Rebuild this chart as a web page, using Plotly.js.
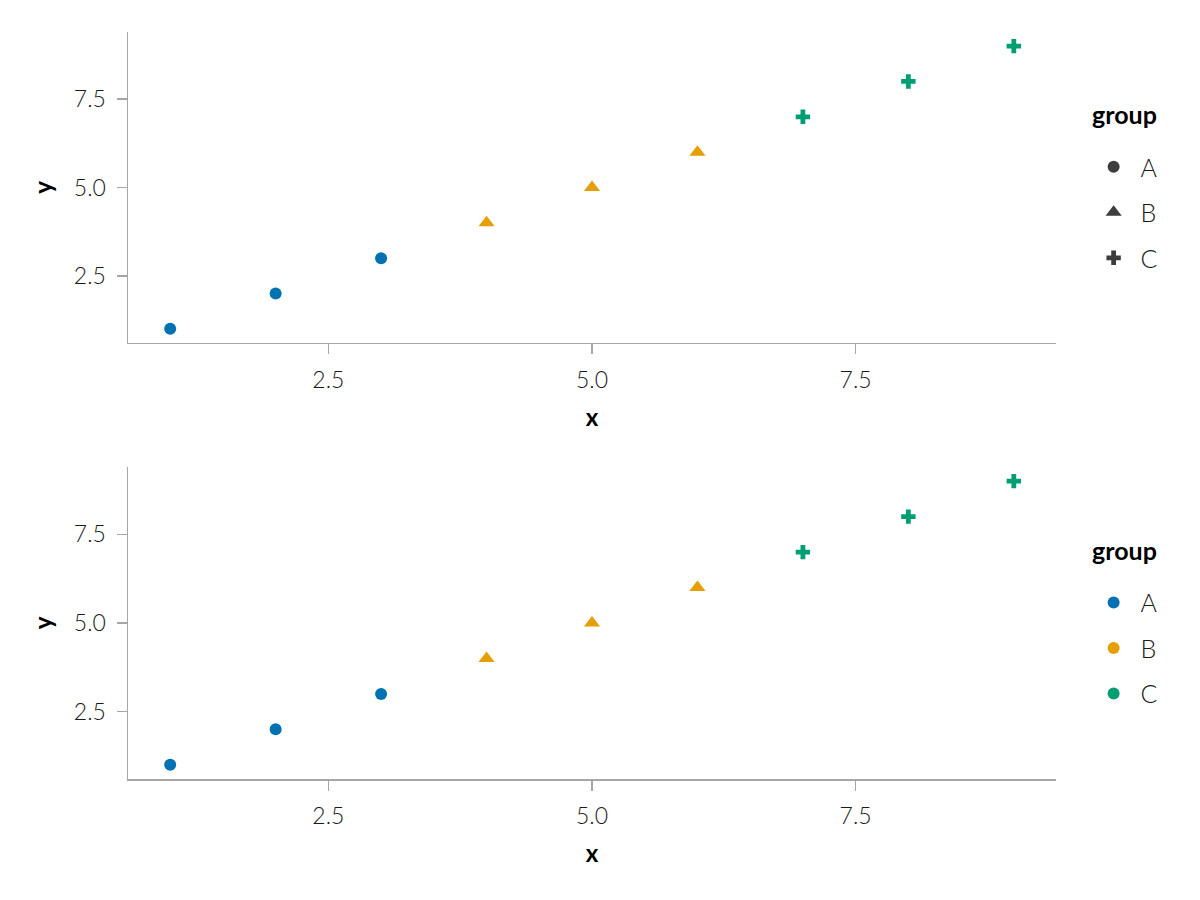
<!DOCTYPE html>
<html>
<head>
<meta charset="utf-8">
<script src="https://cdn.plot.ly/plotly-3.0.1.min.js"></script>
<style>html,body{margin:0;padding:0;background:#fff;}#chart{width:1200px;height:900px;}</style>
</head>
<body>
<div id="chart"></div>
<script>
const xs = [1, 2, 3, 4, 5, 6, 7, 8, 9];
const ys = [1, 2, 3, 4, 5, 6, 7, 8, 9];
const groups = ['A', 'A', 'A', 'B', 'B', 'B', 'C', 'C', 'C'];
const groupNames = ['A', 'B', 'C'];
const groupColors = ['#0072B2', '#E69F00', '#009E73'];
const groupSymbols = ['circle', 'triangle-up', 'cross'];
const tickVals = [2.5, 5.0, 7.5];
const tickText = ['2.5', '5.0', '7.5'];
const legendTitle = 'group';

const FONT = 'Lato, "Open Sans", sans-serif';
const symSize = { 'circle': 12, 'triangle-up': 14, 'cross': 12 };
const traces = [];
['', '2'].forEach(function (ax) {
  groupNames.forEach(function (g, gi) {
    const px = [], py = [];
    groups.forEach(function (gg, i) { if (gg === g) { px.push(xs[i]); py.push(ys[i]); } });
    traces.push({
      type: 'scatter', mode: 'markers', x: px, y: py, name: g,
      xaxis: 'x' + ax, yaxis: 'y' + ax, showlegend: false,
      marker: { color: groupColors[gi], symbol: groupSymbols[gi], size: symSize[groupSymbols[gi]], line: { width: 0 } },
      cliponaxis: false
    });
  });
});
// legend entries: shapes (top), colours (bottom)
groupNames.forEach(function (g, gi) {
  traces.push({
    type: 'scatter', mode: 'markers', x: [null], y: [null], name: g,
    xaxis: 'x', yaxis: 'y', legend: 'legend', legendgroup: 's' + g,
    marker: { color: '#3d3d3d', symbol: groupSymbols[gi], size: symSize[groupSymbols[gi]] }
  });
});
groupNames.forEach(function (g, gi) {
  traces.push({
    type: 'scatter', mode: 'markers', x: [null], y: [null], name: g,
    xaxis: 'x2', yaxis: 'y2', legend: 'legend2', legendgroup: 'c' + g,
    marker: { color: groupColors[gi], symbol: 'circle', size: 12 }
  });
});

function xaxis(anchor) {
  return {
    anchor: anchor, range: [0.6, 9.4], showgrid: false, zeroline: false,
    showline: true, linecolor: '#a6a6a6', linewidth: 1.5,
    ticks: 'outside', ticklen: 10, tickwidth: 1.5, tickcolor: '#a6a6a6',
    tickmode: 'array', tickvals: tickVals, ticktext: tickText, ticklabelstandoff: 6,
    tickfont: { family: FONT, size: 23, color: '#1a1a1a', weight: 300 },
    title: { text: 'x', font: { family: FONT, size: 24, color: '#000', weight: 'bold' }, standoff: 17 }
  };
}
function yaxis(anchor, dom) {
  return {
    anchor: anchor, domain: dom, range: [0.6, 9.4], showgrid: false, zeroline: false,
    showline: true, linecolor: '#a6a6a6', linewidth: 1.5,
    ticks: 'outside', ticklen: 10, tickwidth: 1.5, tickcolor: '#a6a6a6',
    tickmode: 'array', tickvals: tickVals, ticktext: tickText, ticklabelstandoff: 6,
    tickfont: { family: FONT, size: 23, color: '#1a1a1a', weight: 300 },
    title: { text: 'y', font: { family: FONT, size: 24, color: '#000', weight: 'bold' }, standoff: 14 }
  };
}
function legend(y) {
  return {
    x: 1.033, y: y, xanchor: 'left', yanchor: 'top',
    font: { family: FONT, size: 25, color: '#1a1a1a', weight: 300 },
    traceorder: 'grouped', tracegroupgap: 10, bgcolor: 'rgba(0,0,0,0)', itemwidth: 44
  };
}
function legendAnno(y) {
  return {
    xref: 'paper', yref: 'paper', x: 1.037, y: y, xanchor: 'left', yanchor: 'middle',
    text: legendTitle, showarrow: false,
    font: { family: FONT, size: 25, color: '#000', weight: 'bold' }
  };
}

const layout = {
  width: 1200, height: 900,
  margin: { l: 128, r: 144, t: 32, b: 121 },
  paper_bgcolor: '#fff', plot_bgcolor: '#fff',
  font: { family: FONT },
  xaxis: xaxis('y'), yaxis: yaxis('x', [0.5837, 1]),
  xaxis2: xaxis('y2'), yaxis2: yaxis('x2', [0, 0.4177]),
  legend: legend(0.85), legend2: legend(0.2667),
  annotations: [legendAnno(0.8903), legendAnno(0.3066)]
};

Plotly.newPlot('chart', traces, layout, { displayModeBar: false, staticPlot: true });
</script>
</body>
</html>
